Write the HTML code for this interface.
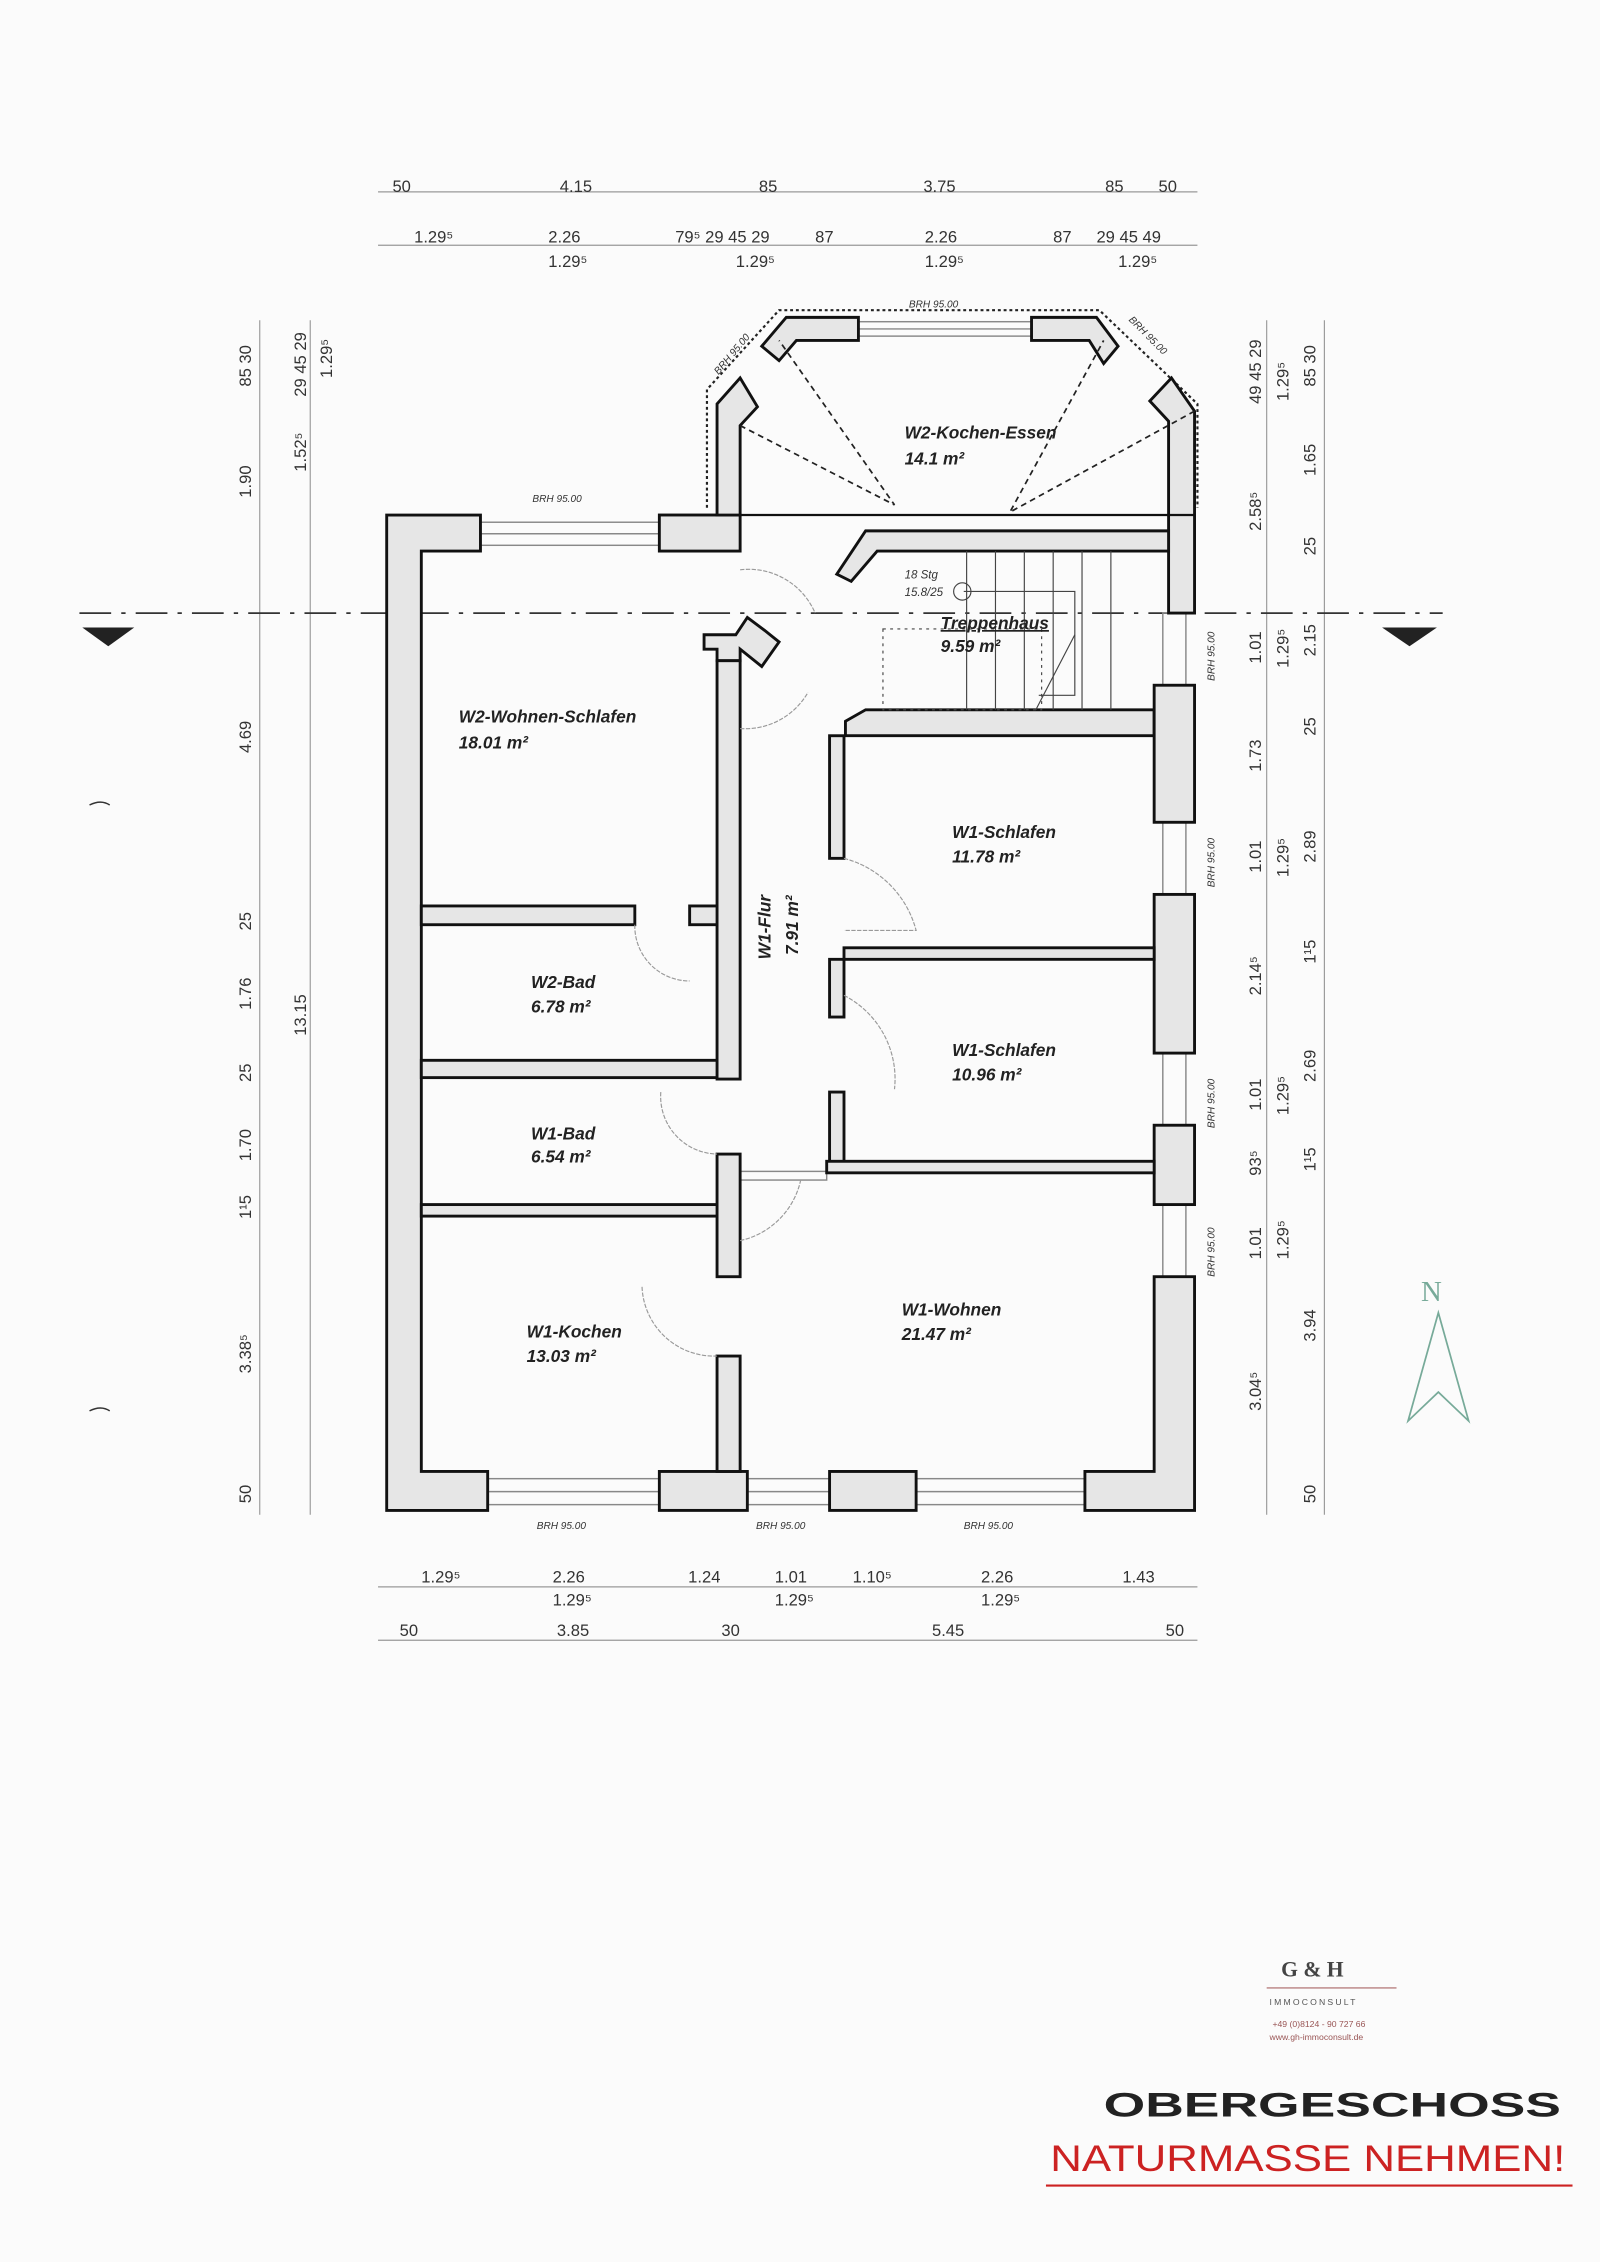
<!DOCTYPE html>
<html><head><meta charset="utf-8"><style>
html,body{margin:0;padding:0;background:#fbfbfb}
svg{display:block}
text{font-family:"Liberation Sans",sans-serif}
.r{font-weight:bold;font-style:italic;font-size:12px;fill:#222}
.d{font-size:11.5px;fill:#333}
.b{font-size:7px;font-style:italic;fill:#333}
.w{fill:#e6e6e6;stroke:#111;stroke-width:2}
.win{stroke:#888;stroke-width:1;fill:none}
.dl{stroke:#999;stroke-width:0.8;fill:none}
</style></head><body>
<svg width="1600" height="2262" viewBox="0 0 1109 1568" xmlns="http://www.w3.org/2000/svg">
<rect width="1109" height="1568" fill="#fbfbfb"/>
<g class="dl"><line x1="262" y1="133" x2="830" y2="133"/><line x1="262" y1="170" x2="830" y2="170"/>
<line x1="262" y1="1100" x2="830" y2="1100"/><line x1="262" y1="1137" x2="830" y2="1137"/>
<line x1="180" y1="222" x2="180" y2="1050"/><line x1="215" y1="222" x2="215" y2="1050"/>
<line x1="878" y1="222" x2="878" y2="1050"/><line x1="918" y1="222" x2="918" y2="1050"/>
</g>
<g class="d">
<text x="272" y="133">50</text><text x="388" y="133">4.15</text><text x="526" y="133">85</text><text x="640" y="133">3.75</text><text x="766" y="133">85</text><text x="803" y="133">50</text>
<text x="287" y="168">1.29⁵</text><text x="380" y="168">2.26</text><text x="468" y="168">79⁵ 29 45 29</text><text x="565" y="168">87</text><text x="641" y="168">2.26</text><text x="730" y="168">87</text><text x="760" y="168">29 45 49</text>
<text x="380" y="185">1.29⁵</text><text x="510" y="185">1.29⁵</text><text x="641" y="185">1.29⁵</text><text x="775" y="185">1.29⁵</text>
<text x="292" y="1097">1.29⁵</text><text x="383" y="1097">2.26</text><text x="477" y="1097">1.24</text><text x="537" y="1097">1.01</text><text x="591" y="1097">1.10⁵</text><text x="680" y="1097">2.26</text><text x="778" y="1097">1.43</text>
<text x="383" y="1113">1.29⁵</text><text x="537" y="1113">1.29⁵</text><text x="680" y="1113">1.29⁵</text>
<text x="277" y="1134">50</text><text x="386" y="1134">3.85</text><text x="500" y="1134">30</text><text x="646" y="1134">5.45</text><text x="808" y="1134">50</text>
</g>
<g class="d">
<text transform="translate(174,268) rotate(-90)">85 30</text>
<text transform="translate(174,345) rotate(-90)">1.90</text>
<text transform="translate(174,522) rotate(-90)">4.69</text>
<text transform="translate(174,645) rotate(-90)">25</text>
<text transform="translate(174,700) rotate(-90)">1.76</text>
<text transform="translate(174,750) rotate(-90)">25</text>
<text transform="translate(174,805) rotate(-90)">1.70</text>
<text transform="translate(174,845) rotate(-90)">1¹5</text>
<text transform="translate(174,952) rotate(-90)">3.38⁵</text>
<text transform="translate(174,1042) rotate(-90)">50</text>
<text transform="translate(212,275) rotate(-90)">29 45 29</text>
<text transform="translate(230,262) rotate(-90)">1.29⁵</text>
<text transform="translate(212,327) rotate(-90)">1.52⁵</text>
<text transform="translate(212,718) rotate(-90)">13.15</text>
<text transform="translate(874,280) rotate(-90)">49 45 29</text>
<text transform="translate(893,278) rotate(-90)">1.29⁵</text>
<text transform="translate(912,268) rotate(-90)">85 30</text>
<text transform="translate(874,368) rotate(-90)">2.58⁵</text>
<text transform="translate(912,330) rotate(-90)">1.65</text>
<text transform="translate(912,385) rotate(-90)">25</text>
<text transform="translate(874,460) rotate(-90)">1.01</text>
<text transform="translate(893,463) rotate(-90)">1.29⁵</text>
<text transform="translate(912,455) rotate(-90)">2.15</text>
<text transform="translate(874,535) rotate(-90)">1.73</text>
<text transform="translate(912,510) rotate(-90)">25</text>
<text transform="translate(874,605) rotate(-90)">1.01</text>
<text transform="translate(893,608) rotate(-90)">1.29⁵</text>
<text transform="translate(912,598) rotate(-90)">2.89</text>
<text transform="translate(874,690) rotate(-90)">2.14⁵</text>
<text transform="translate(912,668) rotate(-90)">1¹5</text>
<text transform="translate(874,770) rotate(-90)">1.01</text>
<text transform="translate(893,773) rotate(-90)">1.29⁵</text>
<text transform="translate(912,750) rotate(-90)">2.69</text>
<text transform="translate(874,815) rotate(-90)">93⁵</text>
<text transform="translate(912,812) rotate(-90)">1¹5</text>
<text transform="translate(874,873) rotate(-90)">1.01</text>
<text transform="translate(893,873) rotate(-90)">1.29⁵</text>
<text transform="translate(912,930) rotate(-90)">3.94</text>
<text transform="translate(874,978) rotate(-90)">3.04⁵</text>
<text transform="translate(912,1042) rotate(-90)">50</text>
</g>
<line x1="55" y1="425" x2="1000" y2="425" stroke="#333" stroke-width="1.2" stroke-dasharray="22,7,3,7"/>
<polygon points="57,435 93,435 75,448" fill="#222"/><polygon points="958,435 996,435 977,448" fill="#222"/>

<polyline points="490,352 490,270 540,215 762,215 830,280 830,352" fill="none" stroke="#222" stroke-width="1.5" stroke-dasharray="2,2"/>
<g class="win">
<rect x="333" y="362" width="124" height="16"/><line x1="333" y1="370" x2="457" y2="370"/>
<rect x="595" y="223" width="120" height="10"/><line x1="595" y1="228" x2="715" y2="228"/>
<rect x="338" y="1025" width="120" height="18"/><line x1="338" y1="1034" x2="458" y2="1034"/>
<rect x="518" y="1025" width="57" height="18"/><line x1="518" y1="1034" x2="575" y2="1034"/>
<rect x="635" y="1025" width="118" height="18"/><line x1="635" y1="1034" x2="753" y2="1034"/>
<rect x="806" y="425" width="16" height="50"/><rect x="806" y="570" width="16" height="50"/>
<rect x="806" y="730" width="16" height="50"/><rect x="806" y="835" width="16" height="50"/>
<rect x="513" y="812" width="60" height="6"/>
</g>
<polygon class="w" points="268,357 333,357 333,382 292,382 292,1020 338,1020 338,1047 268,1047"/>
<rect class="w" x="457" y="357" width="56" height="25"/>
<polygon class="w" points="497,357 497,280 513,262 525,282 513,295 513,357"/>
<polygon class="w" points="528,240 545,220 595,220 595,236 552,236 540,250"/>
<polygon class="w" points="715,220 760,220 775,240 765,252 755,236 715,236"/>
<polygon class="w" points="797,278 812,262 828,285 828,425 810,425 810,292"/>
<line x1="513" y1="357" x2="828" y2="357" stroke="#111" stroke-width="1.5"/>
<polygon class="w" points="600,368 810,368 810,382 608,382 590,403 580,398"/>
<polygon class="w" points="586,500 600,492 800,492 800,510 586,510"/>
<rect class="w" x="800" y="475" width="28" height="95"/>
<rect class="w" x="800" y="620" width="28" height="110"/>
<rect class="w" x="800" y="780" width="28" height="55"/>
<polygon class="w" points="800,885 828,885 828,1047 752,1047 752,1020 800,1020"/>
<rect class="w" x="457" y="1020" width="61" height="27"/>
<rect class="w" x="575" y="1020" width="60" height="27"/>
<polygon class="w" points="488,440 510,440 518,428 530,437 540,445 528,462 513,450 513,458 497,458 497,450 488,450"/>
<rect class="w" x="497" y="458" width="16" height="290"/>
<rect class="w" x="497" y="800" width="16" height="85"/>
<rect class="w" x="497" y="940" width="16" height="80"/>
<rect class="w" x="292" y="628" width="148" height="13"/>
<rect class="w" x="478" y="628" width="19" height="13"/>
<rect class="w" x="292" y="735" width="205" height="12"/>
<rect class="w" x="292" y="835" width="205" height="8"/>
<rect class="w" x="575" y="510" width="10" height="85"/>
<rect class="w" x="575" y="665" width="10" height="40"/>
<rect class="w" x="575" y="757" width="10" height="50"/>
<rect class="w" x="585" y="657" width="215" height="8"/>
<rect class="w" x="573" y="805" width="227" height="8"/>
<g stroke="#444" stroke-width="0.8" fill="none">
<line x1="670" y1="382" x2="670" y2="492"/><line x1="690" y1="382" x2="690" y2="492"/><line x1="710" y1="382" x2="710" y2="492"/><line x1="730" y1="382" x2="730" y2="492"/><line x1="750" y1="382" x2="750" y2="492"/><line x1="770" y1="382" x2="770" y2="492"/>
<polyline points="668,410 745,410 745,482 720,482"/>
<rect x="612" y="436" width="110" height="56" stroke-dasharray="2,3"/>
<line x1="745" y1="440" x2="718" y2="492"/>
<circle cx="667" cy="410" r="6"/>
</g>
<g stroke="#222" stroke-width="1.2" stroke-dasharray="4,3" fill="none">
<polyline points="513,295 620,350 540,236"/><polyline points="828,285 700,355 765,236"/>
</g>
<g stroke="#999" stroke-width="0.8" fill="none" stroke-dasharray="3,1">
<path d="M513,395 A50,50 0 0 1 565,425"/><path d="M513,505 A50,50 0 0 0 560,480"/>
<path d="M585,595 A70,70 0 0 1 635,645 L585,645"/><path d="M585,690 A65,65 0 0 1 620,755"/>
<path d="M458,757 A40,40 0 0 0 497,800"/><path d="M513,860 A55,55 0 0 0 555,818"/>
<path d="M445,892 A50,50 0 0 0 497,940"/><path d="M440,641 A38,38 0 0 0 478,680"/>
</g>
<g class="b">
<text x="630" y="213">BRH 95.00</text><text x="369" y="348">BRH 95.00</text>
<text transform="translate(498,260) rotate(-50)">BRH 95.00</text>
<text transform="translate(782,222) rotate(45)">BRH 95.00</text>
<text x="372" y="1060">BRH 95.00</text><text x="524" y="1060">BRH 95.00</text><text x="668" y="1060">BRH 95.00</text>
<text transform="translate(842,472) rotate(-90)">BRH 95.00</text>
<text transform="translate(842,615) rotate(-90)">BRH 95.00</text>
<text transform="translate(842,782) rotate(-90)">BRH 95.00</text>
<text transform="translate(842,885) rotate(-90)">BRH 95.00</text>
</g>
<text x="627" y="401" style="font-size:8px;font-style:italic;fill:#333">18 Stg</text>
<text x="627" y="413" style="font-size:8px;font-style:italic;fill:#333">15.8/25</text>
<g class="r">
<text x="627" y="304">W2-Kochen-Essen</text><text x="627" y="322">14.1 m²</text>
<text x="652" y="436" text-decoration="underline">Treppenhaus</text><text x="652" y="452">9.59 m²</text>
<text x="318" y="501">W2-Wohnen-Schlafen</text><text x="318" y="519">18.01 m²</text>
<text x="660" y="581">W1-Schlafen</text><text x="660" y="598">11.78 m²</text>
<text x="660" y="732">W1-Schlafen</text><text x="660" y="749">10.96 m²</text>
<text x="368" y="685">W2-Bad</text><text x="368" y="702">6.78 m²</text>
<text x="368" y="790">W1-Bad</text><text x="368" y="806">6.54 m²</text>
<text x="365" y="927">W1-Kochen</text><text x="365" y="944">13.03 m²</text>
<text x="625" y="912">W1-Wohnen</text><text x="625" y="929">21.47 m²</text>
<text transform="translate(534,665) rotate(-90)">W1-Flur</text>
<text transform="translate(553,662) rotate(-90)">7.91 m²</text>
</g>
<text x="985" y="902" style="font-family:'Liberation Serif',serif;font-size:20px;fill:#7a9">N</text>
<polygon points="997,910 976,985 997,965 1018,985" fill="none" stroke="#7a9" stroke-width="1.2"/>
<path d="M62,558 q8,-4 14,0" stroke="#333" fill="none"/><path d="M62,978 q8,-4 14,0" stroke="#333" fill="none"/>
<text x="888" y="1370" style="font-family:'Liberation Serif',serif;font-size:15px;font-weight:bold;fill:#444">G &amp; H</text>
<line x1="878" y1="1378" x2="968" y2="1378" stroke="#a66" stroke-width="0.8"/>
<text x="880" y="1390" style="font-size:6px;letter-spacing:1.5px;fill:#555">IMMOCONSULT</text>
<text x="882" y="1405" style="font-size:6px;fill:#955">+49 (0)8124 - 90 727 66</text>
<text x="880" y="1414" style="font-size:6px;fill:#955">www.gh-immoconsult.de</text>
<text x="765" y="1467" textLength="317" lengthAdjust="spacingAndGlyphs" style="font-size:24px;font-weight:bold;fill:#222">OBERGESCHOSS</text>
<text x="728" y="1505" textLength="357" lengthAdjust="spacingAndGlyphs" style="font-size:26px;fill:#c22">NATURMASSE NEHMEN!</text>
<line x1="725" y1="1515" x2="1090" y2="1515" stroke="#c22" stroke-width="1.5"/>
</svg>
</body></html>
